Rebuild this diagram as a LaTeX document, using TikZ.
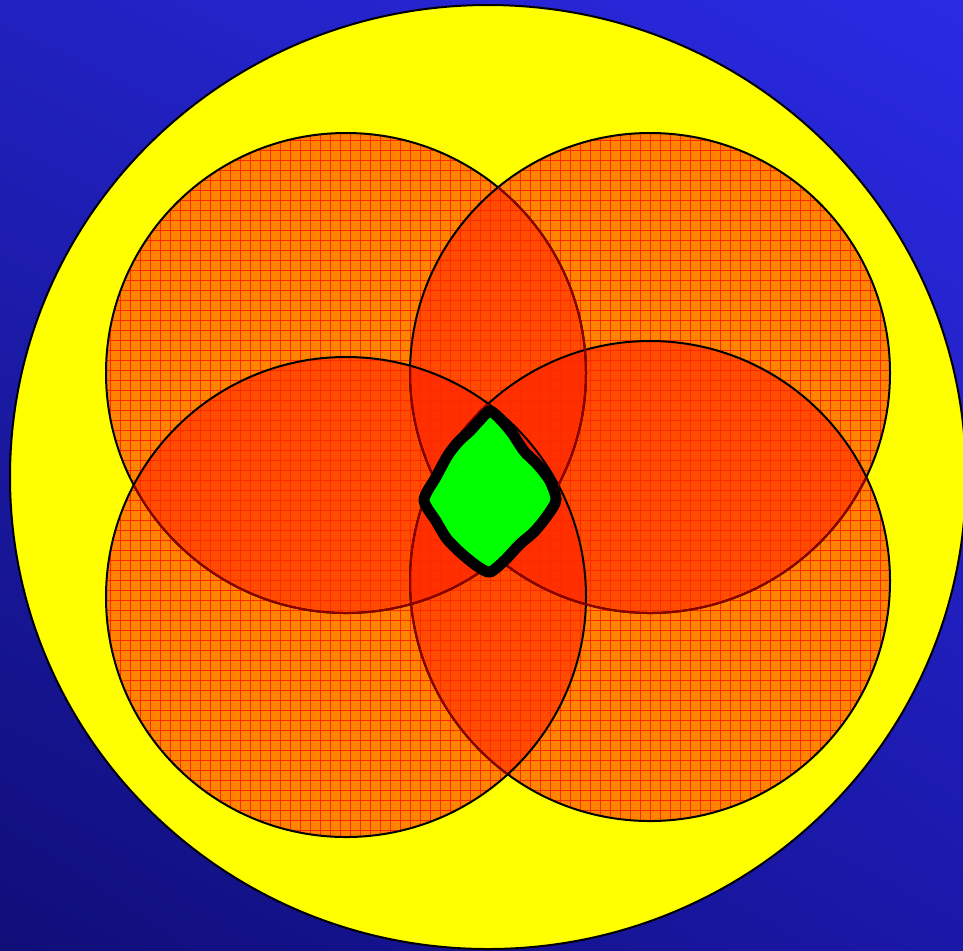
\documentclass[tikz,border=0pt]{standalone}
\usetikzlibrary{shadings}
\definecolor{bgTL}{HTML}{2121C0}
\definecolor{bgTR}{HTML}{2A2AE4}
\definecolor{bgBL}{HTML}{100E78}
\definecolor{bgBR}{HTML}{1A18A8}
\definecolor{sunyellow}{HTML}{FFFF00}
\definecolor{blobgreen}{HTML}{00FF00}
\definecolor{zone1}{HTML}{FF8400}
\definecolor{zone2}{HTML}{FF4C00}
\definecolor{zone3}{HTML}{FF3000}
\definecolor{zone4}{HTML}{FF1C00}
\definecolor{gridred}{HTML}{FF2800}
\definecolor{hiddenline}{HTML}{8A0000}
\tikzset{
  zone/.style={line width=1pt, draw=black},
  gridline/.style={draw=gridred, line width=0.3pt},
  blob/.style={fill=blobgreen, draw=black, line width=5.5pt, line join=round},
}
\begin{document}
\begin{tikzpicture}[x=0.5pt, y=-0.5pt]
\useasboundingbox (0,0) rectangle (963,950);
\shade[upper left=bgTL, upper right=bgTR, lower left=bgBL, lower right=bgBR] (0,0) rectangle (963,950);
% big yellow circle
\coordinate (big) at (488,477);
\draw[fill=sunyellow, line width=1pt] (big) ellipse [x radius=478, y radius=472];
% four circles: TL, TR, BR, BL (drawing order)
\coordinate (tl) at (346,373);
\coordinate (tr) at (650,373);
\coordinate (br) at (650,581);
\coordinate (bl) at (346,597);
\def\R{240}
\foreach \c in {tl,tr,br,bl}{
  \fill[zone1] (\c) circle [radius=\R];
}
\foreach \a/\b in {tl/tr,tl/br,tl/bl,tr/br,tr/bl,br/bl}{
  \begin{scope}
    \clip (\a) circle [radius=\R];
    \fill[zone2] (\b) circle [radius=\R];
  \end{scope}
}
\foreach \a/\b/\d in {tl/tr/br,tl/tr/bl,tl/br/bl,tr/br/bl}{
  \begin{scope}
    \clip (\a) circle [radius=\R];
    \clip (\b) circle [radius=\R];
    \fill[zone3] (\d) circle [radius=\R];
  \end{scope}
}
\begin{scope}
  \clip (tl) circle [radius=\R];
  \clip (tr) circle [radius=\R];
  \clip (br) circle [radius=\R];
  \fill[zone4] (bl) circle [radius=\R];
\end{scope}
% red grid inside the circles
\foreach \c in {tl,tr,br,bl}{
  \begin{scope}
    \clip (\c) circle [radius=\R];
    \draw[gridline] (100,130) grid[step=5pt] (900,840);
  \end{scope}
}
% outlines, parts lying under later circles darkened
\foreach \c in {tl,tr,br,bl}{
  \draw[zone] (\c) circle [radius=\R];
}
\foreach \a/\b in {tl/tr,tl/br,tl/bl,tr/br,tr/bl,br/bl}{
  \begin{scope}
    \clip (\b) circle [radius=\R-0.6];
    \draw[zone, draw=hiddenline] (\a) circle [radius=\R];
  \end{scope}
}
% green blob
\draw[blob] plot[smooth cycle, tension=0.45] coordinates {
  (490,411) (501,420) (512,433) (524,451) (538,465) (550,481) (556,500)
  (547,516) (534,532) (520,544) (505,560) (490,572)
  (477,566) (462,554) (447,539) (436,521) (424,500)
  (436,477) (448,455) (459,441) (470,431) (480,420)
};
\end{tikzpicture}
\end{document}
